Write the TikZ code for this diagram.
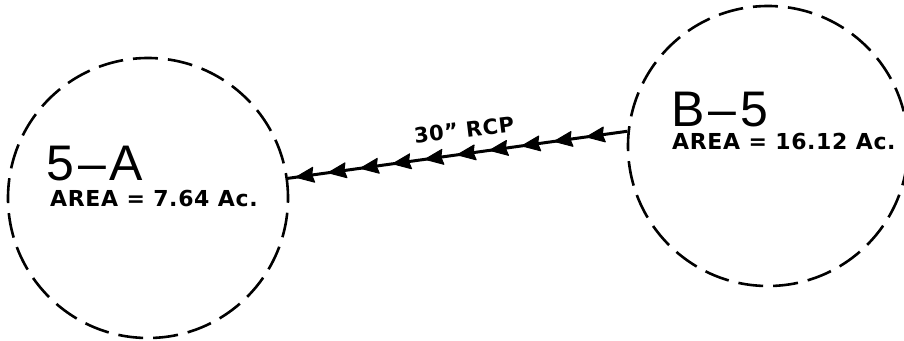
\documentclass[tikz,border=0pt]{standalone}
\usepackage{fontspec}
\setmainfont{DejaVu Sans}[LetterSpace=3]
\newfontfamily\lblfont{Liberation Sans}[LetterSpace=8]
\usetikzlibrary{decorations.markings}
\tikzset{
  basin/.style={circle,draw,line width=2.6pt,dash pattern=on 25pt off 10pt,minimum size=280pt,inner sep=0pt},
  bigname/.style={anchor=base west,inner sep=0pt,text depth=0pt,font=\lblfont\fontsize{50pt}{52pt}\selectfont},
  areatxt/.style={anchor=base west,inner sep=0pt,font=\bfseries\fontsize{22pt}{26pt}\selectfont},
  pipetxt/.style={inner sep=0pt,font=\bfseries\fontsize{21pt}{24pt}\selectfont},
  flowhead/.style={fill=black,draw=black,line width=1pt,line join=round},
  pipe/.style={line width=3pt,postaction={decorate},
    decoration={markings,
      mark=between positions 8pt and 310pt step 32.6pt with {\path[flowhead] (0pt,0pt) -- (18pt,7.5pt) -- (16pt,0pt) -- (18pt,-7.5pt) -- cycle;}}}
}
\begin{document}
\begin{tikzpicture}[x=1pt,y=-1pt]
\useasboundingbox (0,0) rectangle (904,340);
\node[basin] (A) at (148,198) {};
\node[basin] (B) at (768,146) {};
\node[bigname] (An) at (46,180) {5–A};
\node[areatxt] (Aa) at (50,206) {AREA = 7.64 Ac.};
\node[bigname] (Bn) at (671,126) {B–5};
\node[areatxt] (Ba) at (672,149) {AREA = 16.12 Ac.};
\draw[pipe] (A.8.4) -- (B.174.5);
\node[pipetxt,rotate=7] (P) at (464,130) {30" RCP};
\end{tikzpicture}
\end{document}
